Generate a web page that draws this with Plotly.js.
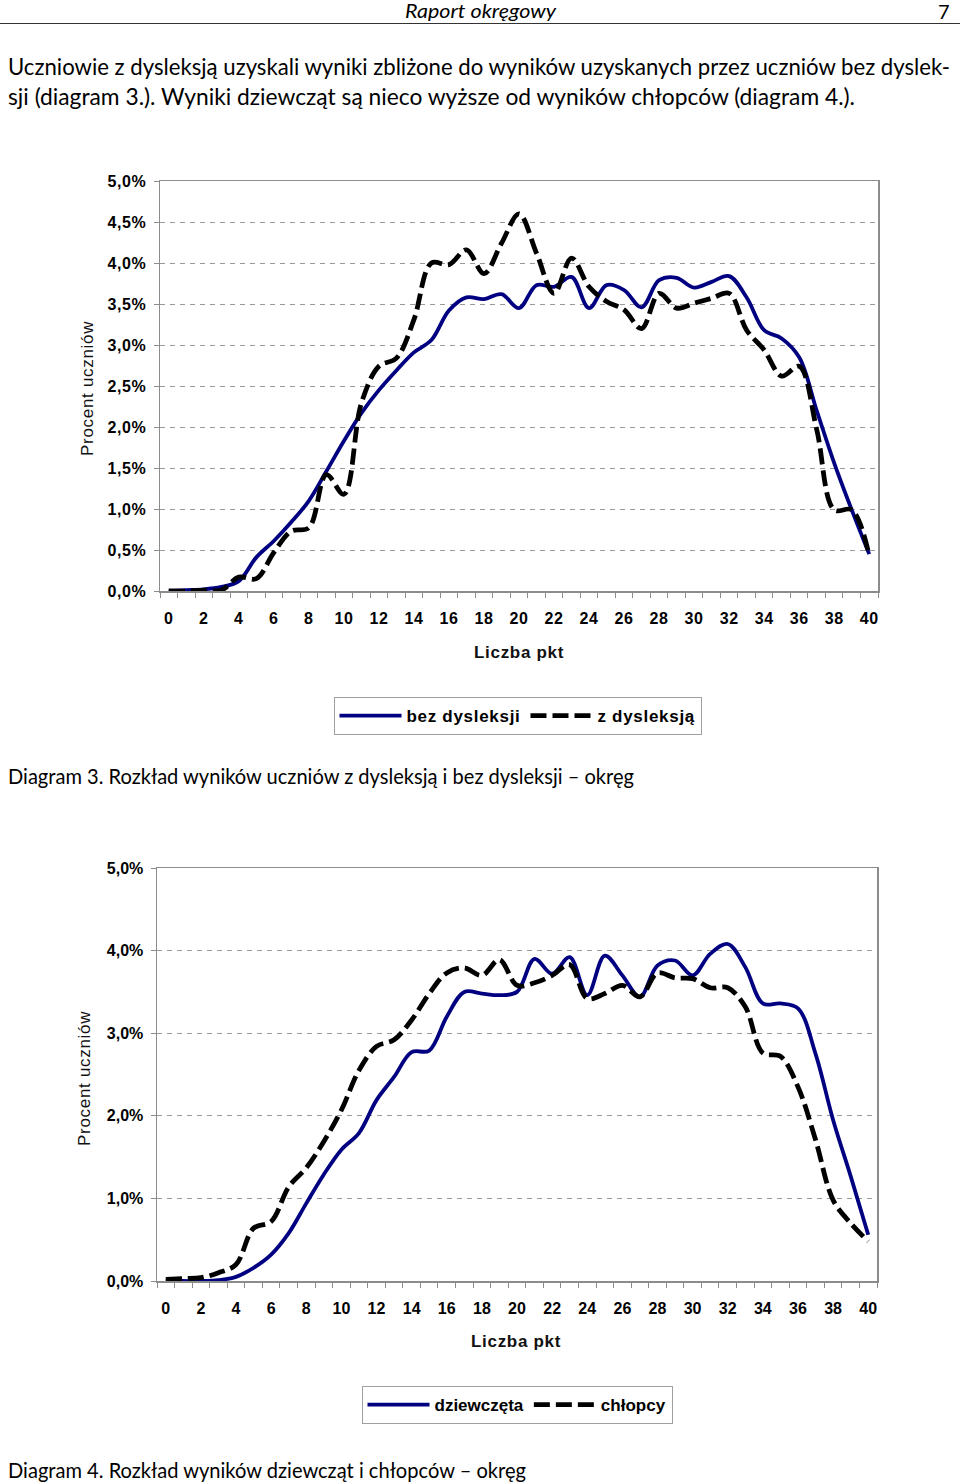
<!DOCTYPE html>
<html>
<head>
<meta charset="utf-8">
<script src="https://cdn.plot.ly/plotly-3.0.1.min.js"></script>
<style>
  html, body { margin:0; padding:0; background:#fff; }
  #page { position:relative; width:960px; height:1484px; overflow:hidden; }
  #chart { position:absolute; left:0; top:0; width:960px; height:1484px; }
  .t { position:absolute; white-space:nowrap; font-family:Lato, "Open Sans", sans-serif; color:#000; transform-origin:0 50%; z-index:5; }
  #rule { position:absolute; left:0; top:23px; width:960px; height:0; border-top:1.5px solid #333; z-index:5; }
  .xtick text, .ytick text { letter-spacing:0.6px; }
  .legendtext, .annotation-text { letter-spacing:0.7px; }
</style>
</head>
<body>
<div id="page">
  <div id="chart"></div>
  <div class="t" id="hdr" data-w="151" style="left:405px; top:0px; font-size:19px; line-height:22px; font-style:italic;">Raport okręgowy</div>
  <div class="t" id="pnum" style="left:936px; top:0px; font-size:20px; line-height:22px; padding:0 2px;">7</div>
  <div id="rule"></div>
  <div class="t" data-w="942" style="left:8px; top:52px; font-size:23px; line-height:28px;">Uczniowie z dysleksją uzyskali wyniki zbliżone do wyników uzyskanych przez uczniów bez dyslek-</div>
  <div class="t" data-w="847" style="left:8px; top:82px; font-size:23px; line-height:28px;">sji (diagram 3.). Wyniki dziewcząt są nieco wyższe od wyników chłopców (diagram 4.).</div>
  <div class="t" data-w="626" style="left:8px; top:763px; font-size:21px; line-height:26px;">Diagram 3. Rozkład wyników uczniów z dysleksją i bez dysleksji – okręg</div>
  <div class="t" data-w="518" style="left:8px; top:1457px; font-size:21px; line-height:26px;">Diagram 4. Rozkład wyników dziewcząt i chłopców – okręg</div>
</div>
<script>
// ---- data ----
const pts = [0,1,2,3,4,5,6,7,8,9,10,11,12,13,14,15,16,17,18,19,20,21,22,23,24,25,26,27,28,29,30,31,32,33,34,35,36,37,38,39,40];
const tickPts = [0,2,4,6,8,10,12,14,16,18,20,22,24,26,28,30,32,34,36,38,40];
const tickLabels = ['0','2','4','6','8','10','12','14','16','18','20','22','24','26','28','30','32','34','36','38','40'];

// Diagram 3 (percent of students)
const bezDysleksji = [0.00,0.01,0.02,0.05,0.12,0.41,0.61,0.84,1.10,1.46,1.83,2.17,2.45,2.69,2.91,3.06,3.42,3.58,3.56,3.62,3.45,3.73,3.71,3.83,3.45,3.73,3.67,3.46,3.79,3.82,3.70,3.77,3.84,3.58,3.18,3.08,2.85,2.20,1.56,0.99,0.45];
const zDysleksja   = [0.00,0.00,0.01,0.01,0.17,0.15,0.47,0.73,0.77,1.42,1.18,2.29,2.74,2.84,3.31,4.00,3.98,4.16,3.87,4.24,4.60,4.12,3.63,4.06,3.71,3.53,3.43,3.20,3.63,3.45,3.51,3.57,3.63,3.18,2.94,2.62,2.74,1.97,0.99,0.99,0.43];

// Diagram 4
const dziewczeta = [0.00,0.00,0.00,0.01,0.05,0.16,0.32,0.58,0.94,1.29,1.59,1.79,2.19,2.47,2.77,2.79,3.20,3.50,3.48,3.46,3.50,3.90,3.72,3.92,3.46,3.94,3.70,3.44,3.82,3.88,3.70,3.96,4.08,3.80,3.36,3.36,3.30,2.75,1.95,1.27,0.56];
const chlopcy    = [0.02,0.03,0.04,0.10,0.20,0.64,0.72,1.14,1.37,1.69,2.07,2.55,2.84,2.92,3.16,3.48,3.73,3.79,3.70,3.89,3.58,3.61,3.70,3.83,3.42,3.48,3.58,3.44,3.73,3.67,3.66,3.55,3.55,3.32,2.76,2.72,2.35,1.71,0.98,0.70,0.48];

const yTicks1 = [0,0.5,1,1.5,2,2.5,3,3.5,4,4.5,5];
const yLabels1 = ['0,0%','0,5%','1,0%','1,5%','2,0%','2,5%','3,0%','3,5%','4,0%','4,5%','5,0%'];
const yTicks2 = [0,1,2,3,4,5];
const yLabels2 = ['0,0%','1,0%','2,0%','3,0%','4,0%','5,0%'];

// ---- layout helpers ----
const W = 960, H = 1484;
const px = v => v / W;
const py = v => 1 - v / H;
const FONT = 'Liberation Sans, Arial, sans-serif';
const NAVY = '#000080';
const boundaries = pts.map(p => p - 0.5).concat([pts[pts.length-1] + 0.5]);

function xAxis(domain, anchor) {
  return {
    domain: domain, anchor: anchor, range: [-0.5, 40.5], fixedrange: true,
    tickmode: 'array', tickvals: tickPts, ticktext: tickLabels, ticks: '',
    ticklabelstandoff: 12,
    tickfont: {family: FONT, size: 16, weight: 'bold', color: '#000'},
    showgrid: false, zeroline: false,
    showline: true, mirror: true, linecolor: '#8c8c8c', linewidth: 1.5,
    minor: {tickmode: 'array', tickvals: boundaries, ticks: 'outside', ticklen: 5, tickcolor: '#8c8c8c', tickwidth: 1, showgrid: false}
  };
}
function yAxis(domain, anchor, ticks, labels) {
  return {
    domain: domain, anchor: anchor, range: [0, 5], fixedrange: true,
    tickmode: 'array', tickvals: ticks, ticktext: labels,
    ticks: 'outside', ticklen: 5, tickcolor: '#8c8c8c', ticklabelstandoff: 4,
    tickfont: {family: FONT, size: 16, weight: 'bold', color: '#000'},
    showgrid: true, gridcolor: '#9a9a9a', gridwidth: 1, griddash: '5px,5px',
    zeroline: false, showline: true, mirror: true, linecolor: '#8c8c8c', linewidth: 1.5
  };
}

const solid = {color: NAVY, width: 3.8, shape: 'spline', smoothing: 1};
const dashed = {color: '#000', width: 4.8, shape: 'spline', smoothing: 1, dash: '16px,6px'};

const traces = [
  {x: pts, y: bezDysleksji, name: 'bez dysleksji', type: 'scatter', mode: 'lines', line: solid, xaxis: 'x', yaxis: 'y', legend: 'legend'},
  {x: pts, y: zDysleksja, name: 'z dysleksją', type: 'scatter', mode: 'lines', line: dashed, xaxis: 'x', yaxis: 'y', legend: 'legend'},
  {x: pts, y: dziewczeta, name: 'dziewczęta', type: 'scatter', mode: 'lines', line: solid, xaxis: 'x2', yaxis: 'y2', legend: 'legend2'},
  {x: pts, y: chlopcy, name: 'chłopcy', type: 'scatter', mode: 'lines', line: dashed, xaxis: 'x2', yaxis: 'y2', legend: 'legend2'}
];

const legendBase = {
  orientation: 'h', xanchor: 'center', yanchor: 'top',
  bordercolor: '#a0a0a0', borderwidth: 1, bgcolor: '#fff',
  font: {family: FONT, size: 17, weight: 'bold', color: '#000'},
  itemwidth: 62, itemclick: false, itemdoubleclick: false, tracegroupgap: 0
};

const annFont = {family: FONT, size: 17, color: '#111'};
const layout = {
  width: W, height: H,
  margin: {l: 0, r: 0, t: 0, b: 0},
  paper_bgcolor: '#fff', plot_bgcolor: '#fff',
  showlegend: true,
  xaxis: xAxis([px(160), px(878)], 'y'),
  yaxis: yAxis([py(591), py(181)], 'x', yTicks1, yLabels1),
  xaxis2: xAxis([px(157), px(877)], 'y2'),
  yaxis2: yAxis([py(1281), py(868)], 'x2', yTicks2, yLabels2),
  legend: Object.assign({}, legendBase, {x: px(517.5), y: py(697)}),
  legend2: Object.assign({}, legendBase, {x: px(517), y: py(1386)}),
  annotations: [
    {text: 'Procent uczniów', xref: 'paper', yref: 'paper', x: px(87), y: py(389), textangle: -90, showarrow: false, font: annFont, xanchor: 'center', yanchor: 'middle'},
    {text: '<b>Liczba pkt</b>', xref: 'paper', yref: 'paper', x: px(519), y: py(652), showarrow: false, font: annFont, xanchor: 'center', yanchor: 'middle'},
    {text: 'Procent uczniów', xref: 'paper', yref: 'paper', x: px(84), y: py(1079), textangle: -90, showarrow: false, font: annFont, xanchor: 'center', yanchor: 'middle'},
    {text: '<b>Liczba pkt</b>', xref: 'paper', yref: 'paper', x: px(516), y: py(1341), showarrow: false, font: annFont, xanchor: 'center', yanchor: 'middle'}
  ]
};

Plotly.newPlot('chart', traces, layout, {staticPlot: true, displayModeBar: false});

function fitText() {
  document.querySelectorAll('.t[data-w]').forEach(el => {
    el.style.transform = 'none';
    const w = el.getBoundingClientRect().width;
    const target = parseFloat(el.dataset.w);
    if (w > 0) el.style.transform = 'scaleX(' + (target / w) + ')';
  });
}
if (document.fonts && document.fonts.ready) { document.fonts.ready.then(fitText); } else { fitText(); }
fitText();
</script>
</body>
</html>
